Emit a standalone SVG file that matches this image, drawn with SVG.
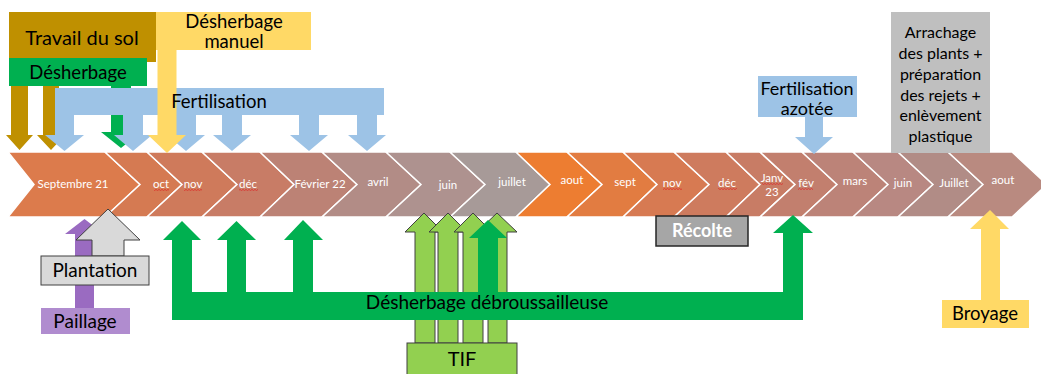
<svg xmlns="http://www.w3.org/2000/svg" width="1041" height="374" viewBox="0 0 1041 374">
<style>
text{font-family:Lato,"Open Sans","Liberation Sans",sans-serif;}
.m{fill:#fff;font-size:11.5px;text-anchor:middle;}
.chev polygon{stroke:#fff;stroke-width:1.5;}
.lbl{fill:#000;text-anchor:middle;}
.out{stroke:#404040;stroke-width:1;}
</style>
<defs>
<pattern id="sq" width="3" height="2" patternUnits="userSpaceOnUse">
<path d="M0 1.6 L1.5 0.4 L3 1.6" fill="none" stroke="#E02020" stroke-width="0.7"/>
</pattern>
</defs>
<rect width="1041" height="374" fill="#fff"/>

<!-- timeline chevrons -->
<g id="timeline" class="chev">
<polygon points="8,152 105,152 140,184.5 105,217 8,217 34,184.5" fill="#DC7B4C"/>
<polygon points="105,152 147,152 182,184.5 147,217 105,217 140,184.5" fill="#D57A52"/>
<polygon points="147,152 202,152 237,184.5 202,217 147,217 182,184.5" fill="#CF7A5B"/>
<polygon points="202,152 260,152 294,184.5 260,217 202,217 237,184.5" fill="#C87C66"/>
<polygon points="260,152 322,152 357,184.5 322,217 260,217 294,184.5" fill="#BC8275"/>
<polygon points="322,152 386,152 421,184.5 386,217 322,217 357,184.5" fill="#B28C86"/>
<polygon points="386,152 450,152 485,184.5 450,217 386,217 421,184.5" fill="#AE928F"/>
<polygon points="450,152 516,152 550,184.5 516,217 450,217 485,184.5" fill="#A79A98"/>
<polygon points="516,152 567,152 602,184.5 567,217 516,217 550,184.5" fill="#ED7D31"/>
<polygon points="567,152 623,152 657,184.5 623,217 567,217 602,184.5" fill="#E27C41"/>
<polygon points="623,152 674,152 709,184.5 674,217 623,217 657,184.5" fill="#D77A52"/>
<polygon points="674,152 726,152 760,184.5 726,217 674,217 709,184.5" fill="#CE7B5E"/>
<polygon points="726,152 760,152 795,184.5 760,217 726,217 760,184.5" fill="#C87C65"/>
<polygon points="760,152 802,152 837,184.5 802,217 760,217 795,184.5" fill="#C27F6E"/>
<polygon points="802,152 853,152 888,184.5 853,217 802,217 837,184.5" fill="#BC8378"/>
<polygon points="853,152 898,152 933,184.5 898,217 853,217 888,184.5" fill="#B88882"/>
<polygon points="898,152 948,152 983,184.5 948,217 898,217 933,184.5" fill="#B18C86"/>
<polygon points="948,152 1012,152 1047,184.5 1012,217 948,217 983,184.5" fill="#B98A80"/>
</g>
<g id="months">
<text class="m" x="73" y="188">Septembre 21</text>
<text class="m" x="161" y="188">oct</text>
<text class="m" x="193" y="188">nov</text>
<text class="m" x="248" y="188">déc</text>
<text class="m" x="320" y="188">Février 22</text>
<text class="m" x="378" y="186">avril</text>
<text class="m" x="448" y="189">juin</text>
<text class="m" x="512" y="186">juillet</text>
<text class="m" x="572" y="184">aout</text>
<text class="m" x="625" y="186">sept</text>
<text class="m" x="672" y="187">nov</text>
<text class="m" x="727" y="187">déc</text>
<text class="m" x="772" y="182">Janv</text>
<text class="m" x="772" y="196">23</text>
<text class="m" x="806" y="187">fév</text>
<text class="m" x="855" y="185">mars</text>
<text class="m" x="903" y="187">juin</text>
<text class="m" x="954" y="187">Juillet</text>
<text class="m" x="1003" y="184">aout</text>
<rect x="154" y="189" width="15" height="2" fill="url(#sq)"/>
<rect x="184" y="189" width="18" height="2" fill="url(#sq)"/>
<rect x="239" y="189" width="19" height="2" fill="url(#sq)"/>
<rect x="663" y="188" width="19" height="2" fill="url(#sq)"/>
<rect x="718" y="188" width="19" height="2" fill="url(#sq)"/>
<rect x="762" y="183" width="21" height="2" fill="url(#sq)"/>
<rect x="798" y="188" width="15" height="2" fill="url(#sq)"/>
</g>

<!-- connectors (arrows) -->
<g id="connectors">
<polygon points="11,62 28,62 28,135 33,135 19.5,150 6,135 11,135" fill="#BF9000"/>
<polygon points="43,62 59,62 59,135 65,135 51,150 37,135 43,135" fill="#BF9000"/>
<polygon points="111,86 131,86 131,132 141,132 121,148 101,132 111,132" fill="#00B050"/>
<path d="M55,88 H384 V115 H377 V135 H386 L367,151 L348,135 H357 V115 H319 V135 H328 L309,151 L290,135 H299 V115 H242 V135 H251 L232,151 L213,135 H222 V115 H196 V135 H205 L186,151 L167,135 H176 V115 H143 V135 H152 L133,151 L114,135 H123 V115 H74 V135 H84 L64.5,151 L45,135 H55 Z" fill="#9DC3E6"/>
<polygon points="157.5,50 176.5,50 176.5,135 186,135 167,153 148,135 157.5,135" fill="#FFD966"/>
<polygon points="805,117 823,117 823,137 833,137 814,154 795,137 805,137" fill="#9DC3E6"/>
<polygon points="75,308 94,308 94,234 104,234 84.5,219 65,234 75,234" fill="#9A6BC1"/>
<polygon class="out" points="92,256 124,256 124,240 140,240 108,209 76,240 92,240" fill="#D9D9D9"/>
<polygon class="out" points="415,343 435,343 435,232 443,232 424,213 405,232 415,232" fill="#92D050"/>
<polygon class="out" points="438,343 458,343 458,232 467,232 448,213 429,232 438,232" fill="#92D050"/>
<polygon class="out" points="463,343 483,343 483,232 492,232 473,213 454,232 463,232" fill="#92D050"/>
<polygon class="out" points="488,343 507,343 507,232 517,232 497,213 477,232 488,232" fill="#92D050"/>
<path d="M172,320 V240 H163 L182,221 L201,240 H192 V292 H227 V240 H217 L236.5,221 L256,240 H246 V292 H293 V240 H284 L303,220 L323,240 H313 V292 H478 V238 H469 L488,220 L507,238 H498 V292 H783 V233 H773 L793,215 L813,233 H803 V320 Z" fill="#00B050"/>
<polygon points="981,300 1000,300 1000,229 1009,229 990,210 970,229 981,229" fill="#FFD966"/>
</g>

<!-- nodes -->
<g id="travail">
<rect x="9" y="12" width="147" height="50" fill="#BF9000"/>
<text class="lbl" x="82" y="45" font-size="20">Travail du sol</text>
</g>
<g id="desherbage-manuel">
<rect x="156" y="12" width="155" height="38" fill="#FFD966"/>
<text class="lbl" x="234" y="28" font-size="18.5">Désherbage</text>
<text class="lbl" x="234" y="48" font-size="18.5">manuel</text>
</g>
<g id="desherbage">
<rect x="9" y="58" width="138" height="28" fill="#00B050"/>
<text class="lbl" x="78" y="79" font-size="18.5">Désherbage</text>
</g>
<g id="fertilisation">
<text class="lbl" x="219" y="108" font-size="18.5">Fertilisation</text>
</g>
<g id="fertilisation-azotee">
<rect x="758" y="76" width="99" height="41" fill="#9DC3E6"/>
<text class="lbl" x="807" y="95" font-size="18">Fertilisation</text>
<text class="lbl" x="807" y="115" font-size="18">azotée</text>
</g>
<g id="arrachage">
<rect x="891" y="12" width="99" height="141" fill="#BFBFBF"/>
<g class="lbl" font-size="16">
<text x="940.5" y="38">Arrachage</text>
<text x="940.5" y="59">des plants +</text>
<text x="940.5" y="80">préparation</text>
<text x="940.5" y="101">des rejets +</text>
<text x="940.5" y="121">enlèvement</text>
<text x="940.5" y="142">plastique</text>
</g>
</g>
<g id="plantation">
<rect class="out" x="41" y="256" width="108" height="29" fill="#D9D9D9"/>
<text class="lbl" x="95" y="277" font-size="19">Plantation</text>
</g>
<g id="paillage">
<rect x="41" y="308" width="89" height="26" fill="#B08CCF"/>
<text class="lbl" x="85" y="328" font-size="19">Paillage</text>
</g>
<g id="debroussailleuse">
<text class="lbl" x="487" y="309" font-size="19">Désherbage débroussailleuse</text>
</g>
<g id="tif">
<rect class="out" x="407" y="343" width="110" height="35" fill="#92D050"/>
<text class="lbl" x="462" y="366" font-size="20">TIF</text>
</g>
<g id="recolte">
<rect x="656" y="216" width="92" height="30" fill="#A6A6A6" stroke="#262626" stroke-width="1.5"/>
<text x="702" y="237" font-size="18" font-weight="bold" fill="#fff" text-anchor="middle">Récolte</text>
</g>
<g id="broyage">
<rect x="942" y="300" width="87" height="28" fill="#FFD966"/>
<text class="lbl" x="985" y="320" font-size="18.5">Broyage</text>
</g>
</svg>
